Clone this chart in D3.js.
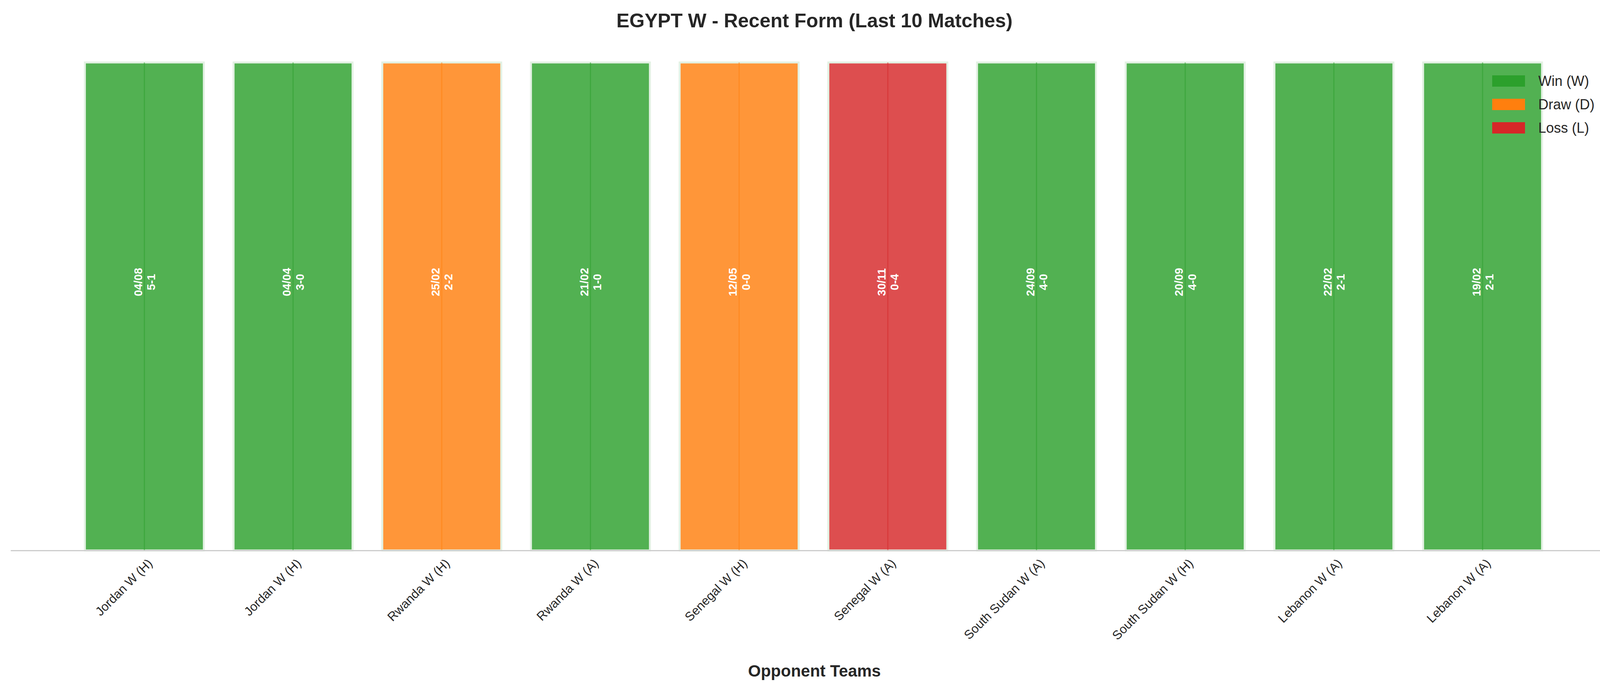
<!DOCTYPE html>
<html>
<head>
<meta charset="utf-8">
<script src="https://cdn.jsdelivr.net/npm/d3@7"></script>
<style>
  body { margin: 0; background: #fff; }
  text { font-family: "Liberation Sans", Arial, sans-serif; }
</style>
</head>
<body>
<div id="chart"></div>
<script>
// match data
var opponents = ["Jordan W (H)", "Jordan W (H)", "Rwanda W (H)", "Rwanda W (A)", "Senegal W (H)",
  "Senegal W (A)", "South Sudan W (A)", "South Sudan W (H)", "Lebanon W (A)", "Lebanon W (A)"];
var results = ["W", "W", "D", "W", "D", "L", "W", "W", "W", "W"];
var dates = ["04/08", "04/04", "25/02", "21/02", "12/05", "30/11", "24/09", "20/09", "22/02", "19/02"];
var scores = ["5-1", "3-0", "2-2", "1-0", "0-0", "0-4", "4-0", "4-0", "2-1", "2-1"];
var barValues = [1, 1, 1, 1, 1, 1, 1, 1, 1, 1];
var legendLabels = [["W", "Win (W)"], ["D", "Draw (D)"], ["L", "Loss (L)"]];

var colors = { W: "#2ca02c", D: "#ff7f0e", L: "#d62728" };

var W = 4170, H = 1770;
var svg = d3.select("#chart").append("svg").attr("width", W).attr("height", H);

// scales
var x = d3.scaleLinear().domain([-0.9, opponents.length - 0.1]).range([27, 4138]);
var y = d3.scaleLinear().domain([0, 1]).range([1410, 160]);
var bw = x(0.8) - x(0);

// bars
var bars = svg.append("g").selectAll("g").data(barValues).enter().append("g");
bars.append("rect")
  .attr("x", function (d, i) { return x(i) - bw / 2; })
  .attr("y", function (d) { return y(d); })
  .attr("width", bw)
  .attr("height", function (d) { return y(0) - y(d); })
  .attr("fill", function (d, i) { return colors[results[i]]; })
  .attr("fill-opacity", 0.82)
  .attr("stroke", "#e3f1e3")
  .attr("stroke-width", 5);
// faint centre line inside each bar
bars.append("line")
  .attr("x1", function (d, i) { return x(i); })
  .attr("x2", function (d, i) { return x(i); })
  .attr("y1", function (d) { return y(d); })
  .attr("y2", y(0))
  .attr("stroke", function (d, i) { return colors[results[i]]; })
  .attr("stroke-width", 3)
  .attr("stroke-opacity", 0.5);

// date + score labels, rotated
bars.append("text")
  .attr("transform", function (d, i) { return "translate(" + x(i) + "," + y(d / 2 + 0.05) + ") rotate(-90)"; })
  .attr("text-anchor", "middle")
  .attr("fill", "#fff")
  .attr("font-weight", "bold")
  .attr("font-size", 29)
  .each(function (d, i) {
    var t = d3.select(this);
    t.append("tspan").attr("x", 0).attr("dy", "-0.2em").text(dates[i]);
    t.append("tspan").attr("x", 0).attr("dy", "1.15em").text(scores[i]);
  });

// x axis
var xAxis = d3.axisBottom(x).tickValues(d3.range(opponents.length))
  .tickFormat(function (i) { return opponents[i]; }).tickSize(0).tickPadding(0);
var gx = svg.append("g").attr("transform", "translate(0," + y(0) + ")").call(xAxis);
gx.select(".domain").attr("stroke", "#cccccc").attr("stroke-width", 3);
gx.selectAll(".tick text")
  .attr("font-size", 32)
  .attr("fill", "#262626")
  .attr("text-anchor", "end")
  .attr("dy", 0)
  .attr("transform", "translate(22,35) rotate(-45)");

svg.append("text").attr("x", W / 2).attr("y", 1733).attr("text-anchor", "middle")
  .attr("font-size", 42).attr("font-weight", "bold").attr("fill", "#262626").text("Opponent Teams");

svg.append("text").attr("x", W / 2).attr("y", 70).attr("text-anchor", "middle")
  .attr("font-size", 50).attr("font-weight", "bold").attr("fill", "#262626")
  .text("EGYPT W - Recent Form (Last 10 Matches)");

// legend
var lg = svg.append("g").selectAll("g").data(legendLabels).enter().append("g")
  .attr("transform", function (d, i) { return "translate(3820," + (193 + i * 60) + ")"; });
lg.append("rect").attr("width", 84).attr("height", 29).attr("fill", function (d) { return colors[d[0]]; });
lg.append("text").attr("x", 118).attr("y", 27).attr("font-size", 36).attr("fill", "#262626")
  .text(function (d) { return d[1]; });
</script>
</body>
</html>
